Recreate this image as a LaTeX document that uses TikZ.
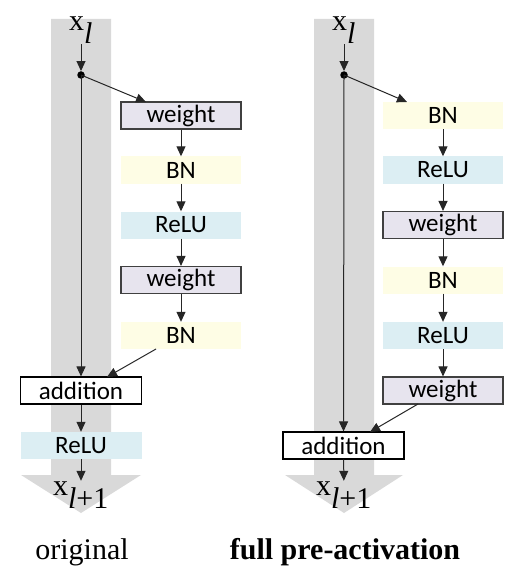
\documentclass[tikz,border=0pt]{standalone}
\usepackage{fontspec}
\setmainfont{Liberation Serif}
\newfontfamily\boxfont{Carlito}
\usetikzlibrary{arrows.meta}
\definecolor{bandgray}{HTML}{D9D9D9}
\definecolor{wfill}{HTML}{E7E4EE}
\definecolor{boxedge}{HTML}{404040}
\definecolor{bnfill}{HTML}{FEFDE5}
\definecolor{relufill}{HTML}{DCEEF3}
\begin{document}
\begin{tikzpicture}[x=1pt,y=-1pt,
  layer/.style={minimum width=120pt,minimum height=27pt,inner sep=0pt,font=\boxfont\fontsize{25}{25}\selectfont},
  wbox/.style={layer,draw=boxedge,fill=wfill,line width=1.1pt},
  bnbox/.style={layer,fill=bnfill},
  relubox/.style={layer,fill=relufill},
  addbox/.style={layer,draw=black,fill=white,line width=1.1pt,minimum width=121pt},
  arr/.style={-{Triangle[length=10pt,width=9pt]},line width=1pt,draw=black!85},
  xlab/.style={font=\fontsize{30}{30}\selectfont,inner sep=1pt},
  captxt/.style={font=\fontsize{30}{30}\selectfont,inner sep=0pt},
  band/.style={fill=bandgray,draw=none},
  dotnode/.style={circle,fill=black,inner sep=0pt,minimum size=7.5pt}
]
\useasboundingbox (0,0) rectangle (520,580);
% bands
\path[band] (51,19) -- (111,19) -- (111,475) -- (141,475) -- (81,513) -- (21,475) -- (51,475) -- cycle;
\path[band] (314,19) -- (374,19) -- (374,475) -- (403,475) -- (344,513) -- (285,475) -- (314,475) -- cycle;

% ---- left: original
\node[xlab] (lx) at (81,30) {x$_{\textit{l}}$};
\node[dotnode] (ld) at (81,75) {};
\node[wbox] (lw1) at (181,115.5) {weight};
\node[bnbox] (lb1) at (181,170) {BN};
\node[relubox] (lr1) at (181,225) {ReLU};
\node[wbox] (lw2) at (181,280) {weight};
\node[bnbox] (lb2) at (181,335.5) {BN};
\node[addbox] (la) at (81,390.5) {addition};
\node[relubox,minimum width=121pt] (lr2) at (81,445.5) {ReLU};
\node[xlab] (lx2) at (81,495) {x$_{\textit{l}\textrm{+1}}$};
\coordinate (lwt) at (146,102);
\coordinate (lat) at (107,377);
\coordinate (lbs) at (156,349);

\draw[arr] (lx) -- (ld);
\draw[arr] (ld.center) -- (lwt);
\draw[arr] (ld.center) -- (la);
\draw[arr] (lw1) -- (lb1);
\draw[arr] (lb1) -- (lr1);
\draw[arr] (lr1) -- (lw2);
\draw[arr] (lw2) -- (lb2);
\draw[arr] (lbs) -- (lat);
\draw[arr] (la) -- (lr2);
\draw[arr] (lr2) -- (lx2);

% ---- right: full pre-activation
\node[xlab] (rx) at (344,30) {x$_{\textit{l}}$};
\node[dotnode] (rd) at (344,75) {};
\node[bnbox] (rb1) at (443,115.5) {BN};
\node[relubox] (rr1) at (443,170) {ReLU};
\node[wbox] (rw1) at (443,225) {weight};
\node[bnbox] (rb2) at (443,280) {BN};
\node[relubox] (rr2) at (443,335.5) {ReLU};
\node[wbox] (rw2) at (443,390.5) {weight};
\node[addbox] (ra) at (343.5,445.5) {addition};
\node[xlab] (rx2) at (344,495) {x$_{\textit{l}\textrm{+1}}$};
\coordinate (rbt) at (407,102);
\coordinate (rat) at (370,432);
\coordinate (rws) at (418,404);

\draw[arr] (rx) -- (rd);
\draw[arr] (rd.center) -- (rbt);
\draw[arr] (rd.center) -- (ra);
\draw[arr] (rb1) -- (rr1);
\draw[arr] (rr1) -- (rw1);
\draw[arr] (rw1) -- (rb2);
\draw[arr] (rb2) -- (rr2);
\draw[arr] (rr2) -- (rw2);
\draw[arr] (rws) -- (rat);
\draw[arr] (ra) -- (rx2);

% captions
\node[captxt] (c1) at (82,552) {original};
\node[captxt] (c2) at (345,552) {\textbf{full pre-activation}};
\end{tikzpicture}
\end{document}
